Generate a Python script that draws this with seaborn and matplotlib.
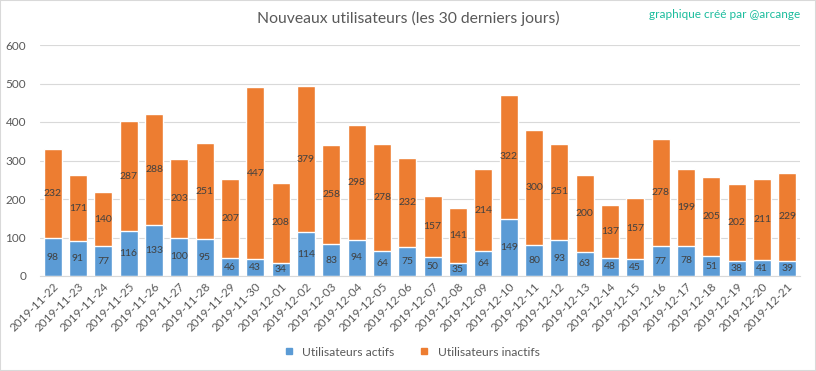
import numpy as np
import matplotlib
matplotlib.use("Agg")
import matplotlib.pyplot as plt
from matplotlib.patches import Rectangle
from matplotlib.lines import Line2D
import seaborn as sns
import pandas as pd

dates = ["2019-11-22", "2019-11-23", "2019-11-24", "2019-11-25", "2019-11-26", "2019-11-27",
         "2019-11-28", "2019-11-29", "2019-11-30", "2019-12-01", "2019-12-02", "2019-12-03",
         "2019-12-04", "2019-12-05", "2019-12-06", "2019-12-07", "2019-12-08", "2019-12-09",
         "2019-12-10", "2019-12-11", "2019-12-12", "2019-12-13", "2019-12-14", "2019-12-15",
         "2019-12-16", "2019-12-17", "2019-12-18", "2019-12-19", "2019-12-20", "2019-12-21"]
actifs = [98, 91, 77, 116, 133, 100, 95, 46, 43, 34, 114, 83, 94, 64, 75,
          50, 35, 64, 149, 80, 93, 63, 48, 45, 77, 78, 51, 38, 41, 39]
inactifs = [232, 171, 140, 287, 288, 203, 251, 207, 447, 208, 379, 258, 298, 278, 232,
            157, 141, 214, 322, 300, 251, 200, 137, 157, 278, 199, 205, 202, 211, 229]

blue = "#5B9BD5"
orange = "#ED7D31"
grey = "#595959"

df = pd.DataFrame({"date": dates, "actifs": actifs, "inactifs": inactifs})
df["total"] = df["actifs"] + df["inactifs"]

sns.set_style("white")
plt.rcParams["font.family"] = ["Lato", "DejaVu Sans"]

fig, ax = plt.subplots(figsize=(8.16, 3.71), dpi=100)
fig.subplots_adjust(left=40/816, right=800/816, top=1-45/371, bottom=1-276/371)

# stacked bars: total in orange, active drawn over it
sns.barplot(data=df, x="date", y="total", color=orange, saturation=1, width=0.71, ax=ax)
sns.barplot(data=df, x="date", y="actifs", color=blue, saturation=1, width=0.71, ax=ax)

for i, (a, b) in enumerate(zip(actifs, inactifs)):
    ax.text(i, a / 2, str(a), ha="center", va="center", fontsize=7.5, color="#404040")
    ax.text(i, a + b / 2, str(b), ha="center", va="center", fontsize=7.5, color="#404040")

ax.set_ylim(0, 600)
ax.set_xlim(-0.5, len(dates) - 0.5)
ax.set_yticks(range(0, 601, 100))
ax.yaxis.grid(True, color="#D9D9D9", linewidth=0.8)
ax.set_axisbelow(True)
ax.set_xlabel("")
ax.set_ylabel("")
for s in ["top", "right", "left"]:
    ax.spines[s].set_visible(False)
ax.spines["bottom"].set_color("#D9D9D9")
ax.tick_params(axis="both", length=0, labelsize=8.5, labelcolor=grey)
ax.tick_params(axis="y", pad=10)
plt.setp(ax.get_xticklabels(), rotation=45, ha="right", rotation_mode="anchor")

fig.text(0.5, 1 - 18/371, "Nouveaux utilisateurs (les 30 derniers jours)", ha="center", va="center",
         fontsize=11.3, color=grey)
fig.text(800/816, 1 - 15/371, "graphique créé par @arcange", ha="right", va="center",
         fontsize=8.5, color="#1ABC9C")

handles = [Line2D([], [], marker="s", linestyle="", color=blue, markersize=5),
           Line2D([], [], marker="s", linestyle="", color=orange, markersize=5)]
fig.legend(handles, ["Utilisateurs actifs", "Utilisateurs inactifs"], loc="center",
           bbox_to_anchor=(0.5, 1 - 352/371), ncol=2, frameon=False, fontsize=8.7,
           labelcolor=grey, handletextpad=0.1, columnspacing=1.5)

fig.patches.append(Rectangle((0, 0), 1, 1, transform=fig.transFigure, fill=False,
                             edgecolor="#D9D9D9", linewidth=1.5))

fig.savefig("out.png", dpi=100)
